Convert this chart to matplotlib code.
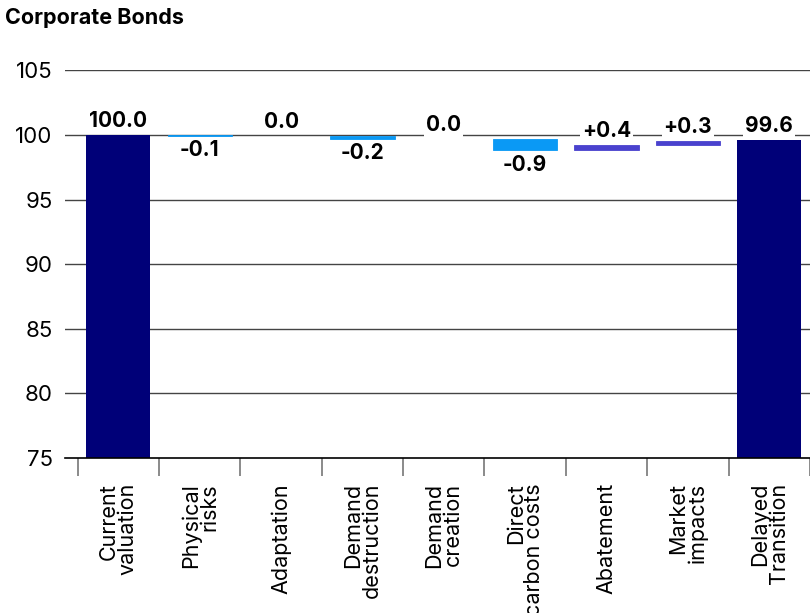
import numpy as np
import matplotlib
matplotlib.use("Agg")
import matplotlib.pyplot as plt

plt.rcParams['font.family'] = ['Inter', 'DejaVu Sans']

categories = ["Current\nvaluation", "Physical\nrisks", "Adaptation", "Demand\ndestruction",
              "Demand\ncreation", "Direct\ncarbon costs", "Abatement", "Market\nimpacts",
              "Delayed\nTransition"]
start_value = 100.0
changes = [-0.1, 0.0, -0.2, 0.0, -0.9, 0.4, 0.3]
end_value = 99.6

navy = "#000078"
neg_col = "#0A99F5"
pos_col = "#4A42CE"

fig = plt.figure(figsize=(8.10, 6.13), dpi=100)
ax = fig.add_axes([65 / 810, 1 - 458 / 613, 1 - 65 / 810, (458 - 71) / 613 + 0.001])

x = np.arange(len(categories))
width = 0.79
y0 = 75


def add_label(xpos, yval, text, above):
    ax.annotate(text, (xpos, yval), xytext=(0, 3 if above else -3), textcoords="offset points",
                ha="center", va="bottom" if above else "top", fontsize=15, fontweight="bold",
                zorder=5, bbox=dict(boxstyle="square,pad=0.1", fc="white", ec="none"))


# opening total
ax.bar(x[0], start_value - y0, bottom=y0, width=width, color=navy, zorder=3)
add_label(x[0], start_value, f"{start_value:.1f}", True)

level = start_value
for i, ch in enumerate(changes, start=1):
    col = pos_col if ch > 0 else neg_col
    if ch != 0:
        ax.bar(x[i], ch, bottom=level, width=width, color=col, edgecolor=col,
               linewidth=0.6, zorder=3)
    if ch < 0:
        add_label(x[i], level + ch, f"{ch:.1f}", False)
    elif ch > 0:
        add_label(x[i], level + ch, f"+{ch:.1f}", True)
    else:
        add_label(x[i], level, f"{ch:.1f}", True)
    level += ch

# closing total
ax.bar(x[-1], end_value - y0, bottom=y0, width=width, color=navy, zorder=3)
add_label(x[-1], end_value, f"{end_value:.1f}", True)

ax.set_ylim(75, 105)
ax.set_xlim(-0.655, 8.43)
ax.set_yticks([75, 80, 85, 90, 95, 100, 105])
ax.tick_params(axis="y", length=0, pad=9, labelsize=16)
for yv in [80, 85, 90, 95, 100, 105]:
    ax.axhline(yv, color="#444444", lw=1, zorder=1)

# boundary ticks and centred category labels
ax.set_xticks(np.arange(len(categories) + 1) - 0.5)
ax.set_xticklabels([])
ax.tick_params(axis="x", which="major", length=13, color="#777777", width=1.2)
ax.set_xticks(x, minor=True)
ax.set_xticklabels(categories, minor=True, rotation=90, fontsize=15.5,
                   multialignment="right", linespacing=0.9)
ax.tick_params(axis="x", which="minor", length=0, pad=18)

for s in ["top", "right", "left"]:
    ax.spines[s].set_visible(False)
ax.spines["bottom"].set_color("black")
ax.spines["bottom"].set_linewidth(1.2)
ax.spines["bottom"].set_zorder(4)

fig.text(5 / 810, 1 - 8 / 613, "Corporate Bonds", fontsize=15.5, fontweight="bold", va="top", ha="left")

fig.savefig("out.png", dpi=100)
